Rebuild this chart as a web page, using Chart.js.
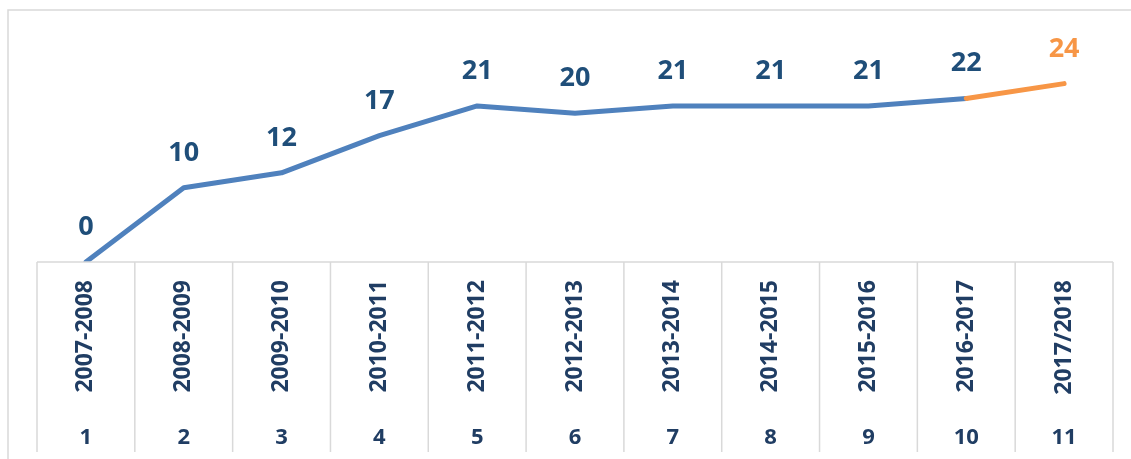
<!DOCTYPE html>
<html>
<head>
<meta charset="utf-8">
<script src="https://cdn.jsdelivr.net/npm/chart.js@4.4.1/dist/chart.umd.min.js"></script>
<style>
  html, body { margin: 0; background: #fff; }
</style>
</head>
<body>
<canvas id="c" width="1131" height="459"></canvas>
<script>
// season labels (first axis row), running index (second row), value per season
const seasons = ["2007-2008", "2008-2009", "2009-2010", "2010-2011", "2011-2012", "2012-2013",
                 "2013-2014", "2014-2015", "2015-2016", "2016-2017", "2017/2018"];
const indexes = ["1", "2", "3", "4", "5", "6", "7", "8", "9", "10", "11"];
const counts = [0, 10, 12, 17, 21, 20, 21, 21, 21, 22, 24];

const LINE_BLUE = "#4f81bd", ORANGE = "#f79646";
const LABEL_BLUE = "#1f4e79", AXIS_BLUE = "#203d63", GRID = "#d9d9d9";
const FONT = "'Open Sans', 'Noto Sans', sans-serif";

// light frame round the whole chart (top + left edges only are visible)
const frame = {
  id: "frame",
  beforeDraw(chart) {
    const c = chart.ctx;
    c.save();
    c.strokeStyle = GRID; c.lineWidth = 1.5;
    c.beginPath(); c.moveTo(8, 459); c.lineTo(8, 10); c.lineTo(1131, 10); c.stroke();
    c.restore();
  },
};

// Excel-style multi-level category table under the plot
const axisTable = {
  id: "axisTable",
  afterDraw(chart) {
    const x = chart.scales.x, x2 = chart.scales.x2, c = chart.ctx;
    const step = x.getPixelForTick(1) - x.getPixelForTick(0);
    const left = x.getPixelForTick(0) - step / 2;
    const right = x.getPixelForTick(seasons.length - 1) + step / 2;
    c.save();
    c.strokeStyle = GRID; c.lineWidth = 1.5;
    c.beginPath();
    c.moveTo(left, x.top); c.lineTo(right, x.top);
    for (let i = 0; i <= seasons.length; i++) {
      const px = left + i * step;
      c.moveTo(px, x.top); c.lineTo(px, x2.bottom);
    }
    c.stroke();
    c.restore();
  },
};

// value labels above each point, the last one orange
const valueLabels = {
  id: "valueLabels",
  afterDatasetsDraw(chart) {
    const meta = chart.getDatasetMeta(0), c = chart.ctx;
    c.save();
    c.font = `bold 27px ${FONT}`;
    c.textAlign = "center"; c.textBaseline = "alphabetic";
    meta.data.forEach((pt, i) => {
      c.fillStyle = i === counts.length - 1 ? ORANGE : LABEL_BLUE;
      c.fillText(String(counts[i]), pt.x, pt.y - 27);
    });
    c.restore();
  },
};

new Chart(document.getElementById("c"), {
  type: "line",
  data: {
    labels: seasons,
    datasets: [{
      data: counts,
      borderColor: LINE_BLUE,
      borderWidth: 5,
      borderCapStyle: "round",
      borderJoinStyle: "round",
      pointRadius: 0,
      tension: 0,
      segment: { borderColor: ctx => ctx.p1DataIndex === counts.length - 1 ? ORANGE : LINE_BLUE },
    }],
  },
  plugins: [frame, axisTable, valueLabels],
  options: {
    responsive: false,
    animation: false,
    layout: { padding: { left: 37, right: 18, top: 39, bottom: 7 } },
    plugins: { legend: { display: false }, tooltip: { enabled: false } },
    scales: {
      y: { display: false, min: 0, max: 30 },
      x: {
        position: "bottom", offset: true,
        grid: { display: false }, border: { display: false },
        ticks: { autoSkip: false, minRotation: 90, maxRotation: 90, padding: 10, color: AXIS_BLUE,
                 font: { family: FONT, size: 23, weight: "bold" } },
        afterFit(s) { s.height = 140; },
      },
      x2: {
        axis: "x", type: "category", labels: indexes, position: "bottom", offset: true,
        grid: { display: false }, border: { display: false },
        ticks: { autoSkip: false, padding: 15, color: AXIS_BLUE,
                 font: { family: FONT, size: 22, weight: "bold" } },
        afterFit(s) { s.height = 50; },
      },
    },
  },
});
</script>
</body>
</html>
